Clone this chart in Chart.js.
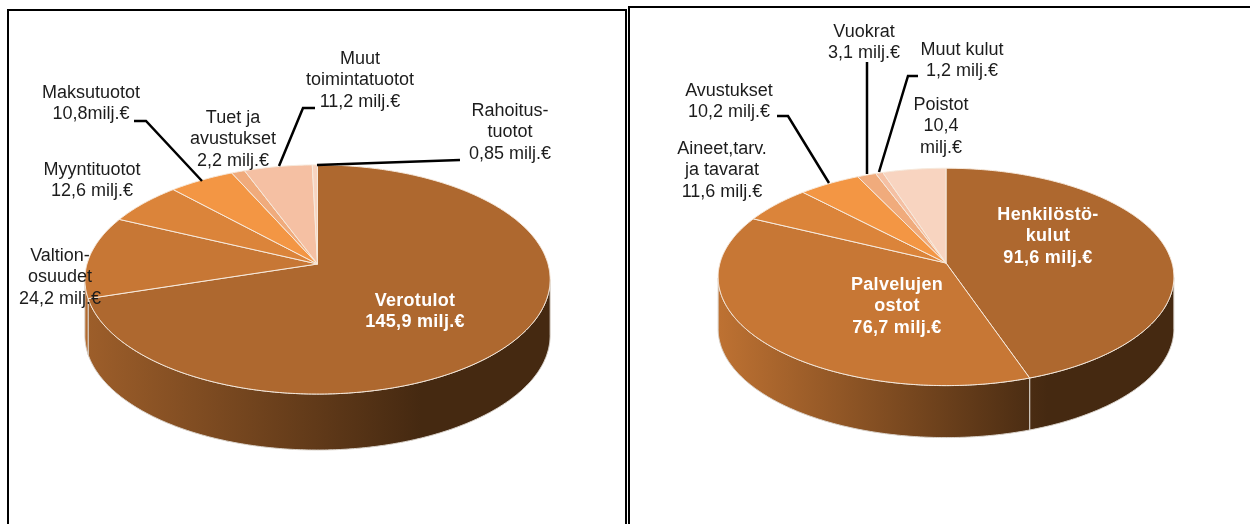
<!DOCTYPE html>
<html>
<head>
<meta charset="utf-8">
<title>Tulot ja menot</title>
<script src="https://cdn.jsdelivr.net/npm/chart.js@4"></script>
<style>
html, body { margin: 0; padding: 0; background: #fff; overflow: hidden; }
.frame { position: absolute; box-sizing: border-box; border: 2px solid #000; height: 640px; }
#frameLeft { left: 7px; top: 9px; width: 620px; }
#frameRight { left: 628px; top: 6px; width: 700px; }
canvas { position: absolute; top: 0; }
#incomeChart { left: 0; }
#costChart { left: 628px; }
</style>
</head>
<body>
<div class="frame" id="frameLeft"></div>
<div class="frame" id="frameRight"></div>
<canvas id="incomeChart" width="628" height="524"></canvas>
<canvas id="costChart" width="622" height="524"></canvas>
<script>
// tulot (milj. €)
const incomeCategories = ["Verotulot", "Valtionosuudet", "Myyntituotot", "Maksutuotot", "Tuet ja avustukset", "Muut toimintatuotot", "Rahoitustuotot"];
const incomeValues = [145.9, 24.2, 12.6, 10.8, 2.2, 11.2, 0.85];
const incomeColors = ["#ae682f", "#c77735", "#db843a", "#f39644", "#f0ab7c", "#f5c0a3", "#f8d4c0"];
const incomeLabels = [
    ["Verotulot", "145,9 milj.€"],
    ["Valtion-", "osuudet", "24,2 milj.€"],
    ["Myyntituotot", "12,6 milj.€"],
    ["Maksutuotot", "10,8milj.€"],
    ["Tuet ja", "avustukset", "2,2 milj.€"],
    ["Muut", "toimintatuotot", "11,2 milj.€"],
    ["Rahoitus-", "tuotot", "0,85 milj.€"]
];

// menot (milj. €)
const costCategories = ["Henkilöstökulut", "Palvelujen ostot", "Aineet, tarvikkeet ja tavarat", "Avustukset", "Vuokrat", "Muut kulut", "Poistot"];
const costValues = [91.6, 76.7, 11.6, 10.2, 3.1, 1.2, 10.4];
const costColors = ["#ae682f", "#c77735", "#db843a", "#f39644", "#f0ab7c", "#f5c0a3", "#f8d4c0"];
const costLabels = [
    ["Henkilöstö-", "kulut", "91,6 milj.€"],
    ["Palvelujen", "ostot", "76,7 milj.€"],
    ["Aineet,tarv.", "ja tavarat", "11,6 milj.€"],
    ["Avustukset", "10,2 milj.€"],
    ["Vuokrat", "3,1 milj.€"],
    ["Muut kulut", "1,2 milj.€"],
    ["Poistot", "10,4", "milj.€"]
];

// label placement: centre x and first line y, in canvas pixels
const incomeLabelPos = [[415, 301], [60, 256], [92, 170], [91, 93], [233, 118], [360, 59], [510, 111]];
const costLabelPos = [[420, 215], [269, 285], [94, 149], [101, 91], [236, 32], [334, 50], [313, 105]];
const incomeBold = [0];
const costBold = [0, 1];

const incomeLeaders = [
    [[134, 121], [146, 121], [202, 181]],
    [[315, 108], [303, 108], [279, 166]],
    [[460, 160], [317, 165]]
];
const costLeaders = [
    [[149, 116], [160, 116], [201, 183]],
    [[239, 62], [239, 174]],
    [[290, 76], [280, 76], [251, 172]]
];

const sideDark = "#452911";

function shade(hex, f) {
    const n = parseInt(hex.slice(1), 16);
    const c = [n >> 16, (n >> 8) & 255, n & 255].map(v => Math.round(v * f));
    return `rgb(${c[0]},${c[1]},${c[2]})`;
}

// tilted disc: maps an angle on the circle to the screen, far side squeezed
function project(arc, angle, cfg) {
    const u = Math.cos(angle);
    const v = Math.sin(angle);
    const w = 1 - cfg.tilt * v;
    return [arc.x + arc.outerRadius * u / w, arc.y + arc.outerRadius * cfg.squash * v / w];
}

function arcAngles(a, b) {
    const n = Math.max(2, Math.ceil((b - a) / 0.01));
    const out = [];
    for (let i = 0; i <= n; i++) out.push(a + (b - a) * i / n);
    return out;
}

const pie3d = {
    id: "pie3d",
    beforeDatasetDraw(chart, args, cfg) {
        const ctx = chart.ctx;
        const arcs = args.meta.data;
        const colors = chart.data.datasets[0].backgroundColor;

        // side wall, only the part facing the viewer
        arcs.forEach((arc, i) => {
            const props = arc.getProps(["startAngle", "endAngle"]);
            const angles = arcAngles(props.startAngle, props.endAngle).filter(a => Math.sin(a) >= cfg.tilt);
            if (angles.length < 2) return;
            const grad = ctx.createLinearGradient(arc.x - arc.outerRadius, 0, arc.x + arc.outerRadius * 0.45, 0);
            grad.addColorStop(0, shade(colors[i], cfg.sideStart));
            grad.addColorStop(1, sideDark);
            ctx.beginPath();
            angles.forEach((a, k) => {
                const p = project(arc, a, cfg);
                if (k === 0) ctx.moveTo(p[0], p[1]); else ctx.lineTo(p[0], p[1]);
            });
            angles.slice().reverse().forEach(a => {
                const p = project(arc, a, cfg);
                ctx.lineTo(p[0], p[1] + cfg.depth);
            });
            ctx.closePath();
            ctx.fillStyle = grad;
            ctx.fill();
            ctx.strokeStyle = "#d9d2ca";
            ctx.lineWidth = 1;
            ctx.stroke();
        });

        // top face
        arcs.forEach((arc, i) => {
            const props = arc.getProps(["startAngle", "endAngle"]);
            ctx.beginPath();
            ctx.moveTo(arc.x, arc.y);
            arcAngles(props.startAngle, props.endAngle).forEach(a => {
                const p = project(arc, a, cfg);
                ctx.lineTo(p[0], p[1]);
            });
            ctx.closePath();
            ctx.fillStyle = colors[i];
            ctx.fill();
            ctx.strokeStyle = "#f6e9dc";
            ctx.lineWidth = 1;
            ctx.stroke();
        });
        return false;
    },
    afterDraw(chart, args, cfg) {
        const ctx = chart.ctx;
        ctx.save();
        ctx.strokeStyle = "#000";
        ctx.lineWidth = 2.5;
        cfg.leaders.forEach(line => {
            ctx.beginPath();
            line.forEach((p, k) => k === 0 ? ctx.moveTo(p[0], p[1]) : ctx.lineTo(p[0], p[1]));
            ctx.stroke();
        });
        ctx.textAlign = "center";
        ctx.textBaseline = "middle";
        chart.data.labels.forEach((lines, i) => {
            const bold = cfg.bold.includes(i);
            ctx.font = (bold ? "bold " : "") + "18px 'Liberation Sans', Arial, sans-serif";
            ctx.letterSpacing = bold ? "0.3px" : "0px";
            ctx.fillStyle = bold ? "#fff" : "#1c1c1c";
            lines.forEach((txt, k) => ctx.fillText(txt, cfg.labelPos[i][0], cfg.labelPos[i][1] + k * 21.3));
        });
        ctx.restore();
    }
};

function makePie(id, labels, values, colors, opts) {
    return new Chart(document.getElementById(id).getContext("2d"), {
        type: "pie",
        data: {
            labels: labels,
            datasets: [{ data: values, backgroundColor: colors, borderWidth: 0 }]
        },
        options: {
            responsive: false,
            animation: false,
            radius: opts.radius,
            layout: { padding: opts.padding },
            plugins: {
                legend: { display: false },
                tooltip: { enabled: false },
                pie3d: opts.pie3d
            }
        },
        plugins: [pie3d]
    });
}

makePie("incomeChart", incomeLabels, incomeValues, incomeColors, {
    radius: 230.5,
    padding: { left: 7, top: 4 },
    pie3d: { tilt: 0.135, squash: 0.488, depth: 56, sideStart: 0.9, leaders: incomeLeaders, labelPos: incomeLabelPos, bold: incomeBold }
});

makePie("costChart", costLabels, costValues, costColors, {
    radius: 226,
    padding: { left: 14, top: 2 },
    pie3d: { tilt: 0.128, squash: 0.473, depth: 52, sideStart: 0.95, leaders: costLeaders, labelPos: costLabelPos, bold: costBold }
});
</script>
</body>
</html>
